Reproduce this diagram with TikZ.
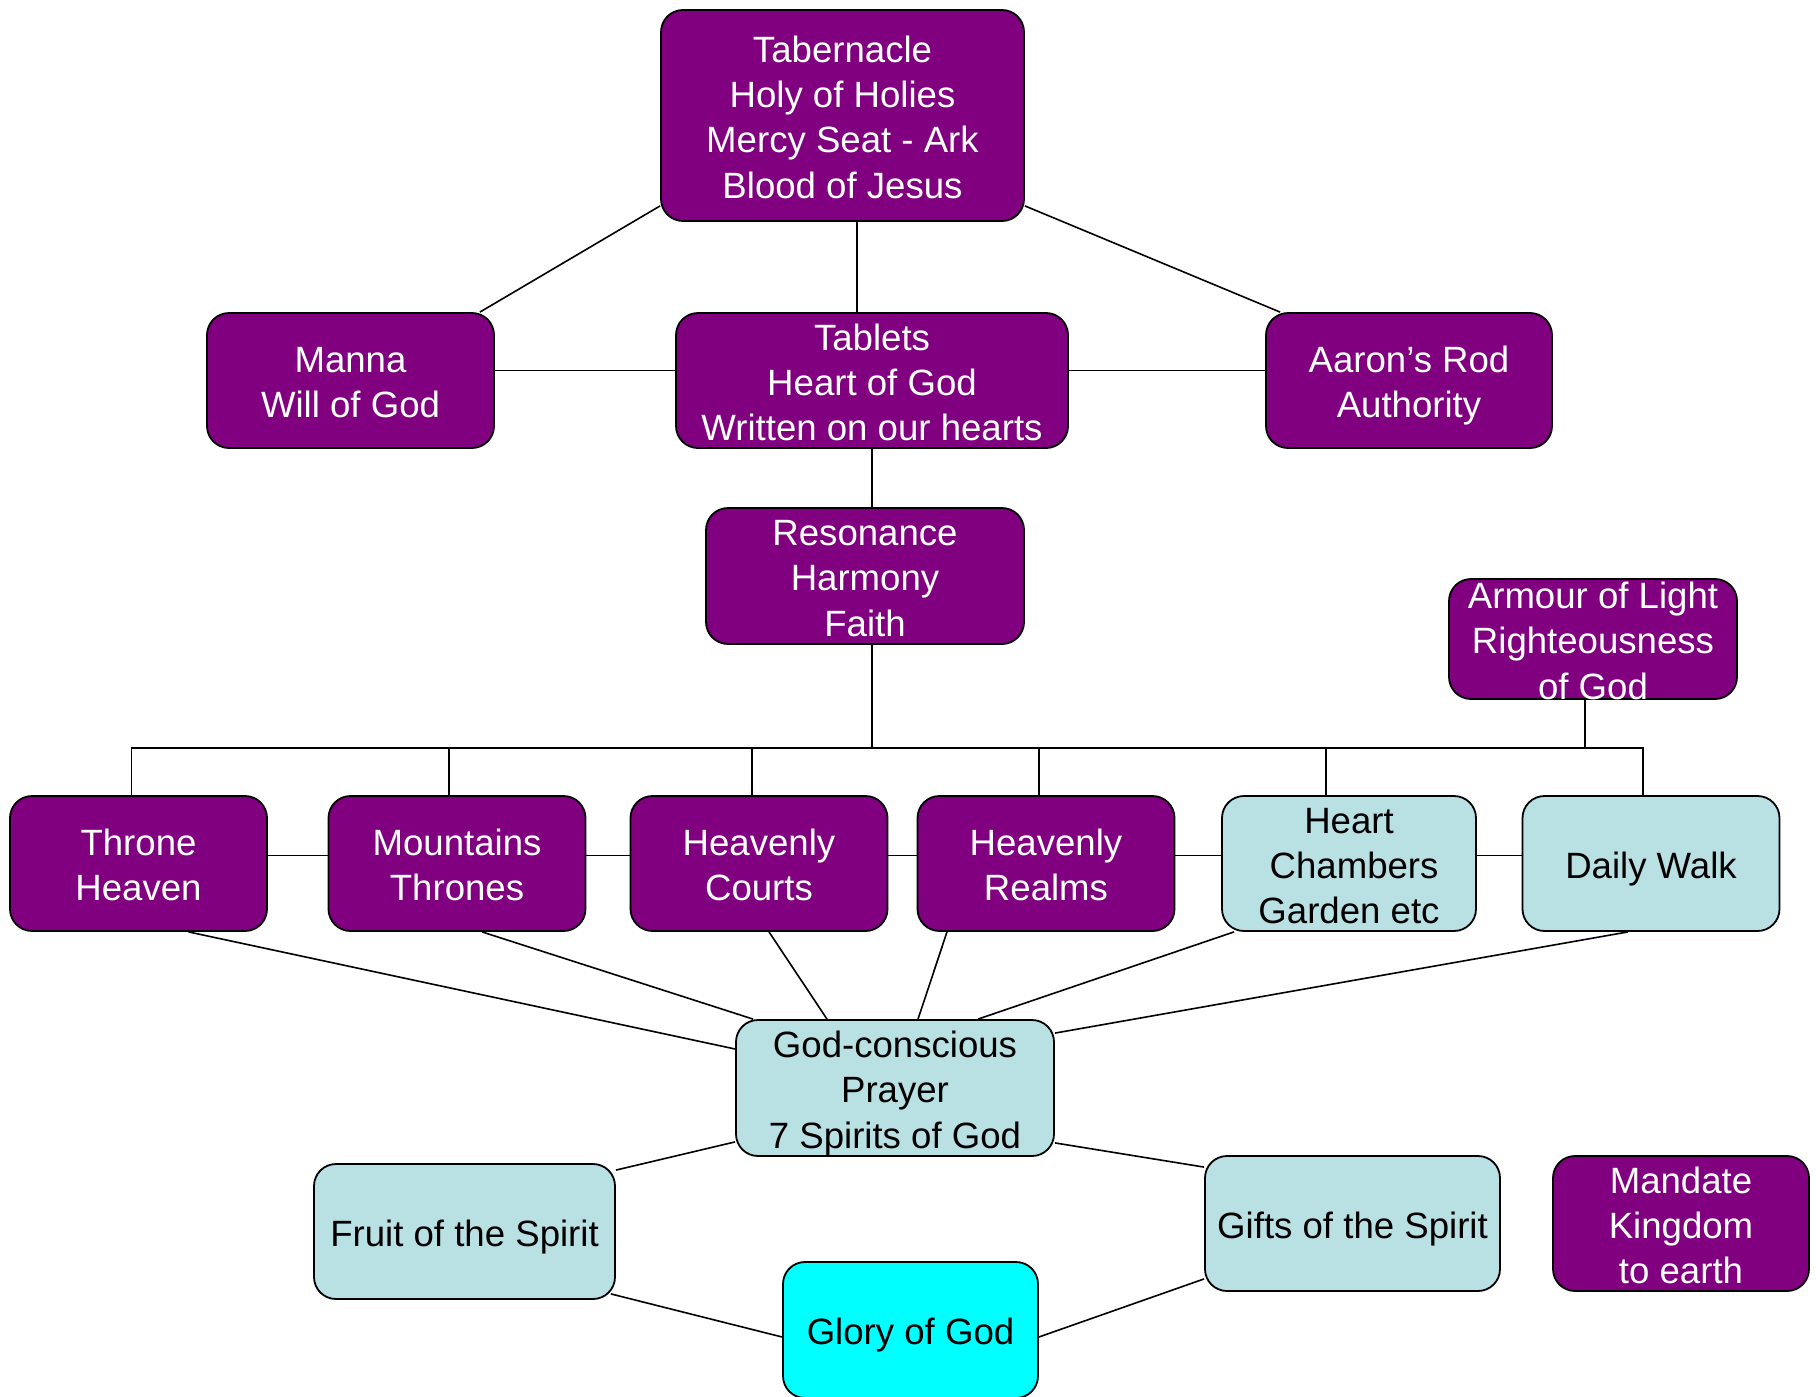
\documentclass[tikz,border=0pt]{standalone}
\usepackage{fontspec}
\setmainfont{Liberation Sans}
\usetikzlibrary{calc}

\definecolor{boxpurple}{RGB}{128,0,128}
\definecolor{boxblue}{RGB}{185,224,227}
\definecolor{boxcyan}{RGB}{0,255,255}

\tikzset{
  box/.style={draw=black, line width=0.9pt, rounded corners=11pt, inner sep=0pt,
    align=center, font=\fontsize{18.3}{22.6}\selectfont, minimum height=67.5pt,
    text height=18.5pt, text depth=3.7pt},
  lines2/.style={text height=41.1pt},
  lines3/.style={text height=63.7pt},
  lines4/.style={text height=86.3pt},
  purplebox/.style={box, fill=boxpurple, text=white},
  bluebox/.style={box, fill=boxblue, text=black},
  link/.style={draw=black, line width=0.8pt}
}

\begin{document}
\begin{tikzpicture}[x=0.5pt, y=-0.5pt]
	\useasboundingbox (0,0) rectangle (1816,1397);
	% top part
	\node[purplebox, lines4, minimum width=181.5pt, minimum height=105.5pt] (tab) at (842.5,115.5) {Tabernacle\\Holy of Holies\\Mercy Seat - Ark\\Blood of Jesus};
	\node[purplebox, lines2, minimum width=143.5pt] (manna) at (350.5,380.5) {Manna\\Will of God};
	\node[purplebox, lines3, minimum width=196pt] (tablets) at (872,380.5) {Tablets\\Heart of God\\Written on our hearts};
	\node[purplebox, lines2, minimum width=143pt] (aaron) at (1409,380.5) {Aaron’s Rod\\Authority};
	\node[purplebox, lines3, minimum width=159pt, minimum height=68pt] (res) at (865,576) {Resonance\\Harmony\\Faith};
	\node[purplebox, lines3, minimum width=144pt, minimum height=60pt, inner ysep=-3.7pt] (armour) at (1593,639) {Armour of Light\\Righteousness\\of God};
	% row of realms
	\node[purplebox, lines2, minimum width=128.5pt] (throne) at (138.5,863.5) {Throne\\Heaven};
	\node[purplebox, lines2, minimum width=128.5pt] (mount) at (457,863.5) {Mountains\\Thrones};
	\node[purplebox, lines2, minimum width=128.5pt] (courts) at (759,863.5) {Heavenly\\Courts};
	\node[purplebox, lines2, minimum width=128.5pt] (realms) at (1046,863.5) {Heavenly\\Realms};
	\node[bluebox, lines3, minimum width=127pt] (heart) at (1349,863.5) {Heart\\\ Chambers\\Garden etc};
	\node[bluebox, minimum width=128.5pt] (daily) at (1651,863.5) {Daily Walk};
	% bottom part
	\node[bluebox, lines3, minimum width=159pt, minimum height=68pt] (gc) at (895,1088) {God-conscious\\Prayer\\7 Spirits of God};
	\node[bluebox, minimum width=150.5pt] (fruit) at (464.5,1231.5) {Fruit of the Spirit};
	\node[bluebox, minimum width=147.5pt] (gifts) at (1352.5,1223.5) {Gifts of the Spirit};
	\node[box, fill=boxcyan, minimum width=127.5pt, minimum height=68pt] (glory) at (910.5,1330) {Glory of God};
	\node[purplebox, lines3, minimum width=128pt] (mandate) at (1681,1223.5) {Mandate\\Kingdom\\to earth};

	% connectors
	\draw[link] ($(tab.south west)+(0,-16)$) -- ($(manna.north east)+(-15,0)$);
	\draw[link] ($(tab.south)+(14.5,0)$) -- ($(tablets.north)+(-15,0)$);
	\draw[link] ($(tab.south east)+(0,-16)$) -- ($(aaron.north west)+(15,0)$);
	\draw[link] ($(manna.east)+(0,-10)$) -- ($(tablets.west)+(0,-10)$);
	\draw[link] ($(tablets.east)+(0,-10)$) -- ($(aaron.west)+(0,-10)$);
	\draw[link] (tablets.south) -- (tablets.south |- res.north);
	\coordinate (hub) at (872,748);
	\draw[link] (tablets.south |- res.south) -- (hub);
	\foreach \n/\dx in {throne/-7, mount/-8, courts/-7, realms/-7, heart/-23, daily/-8}
		\draw[link] ($(\n.north)+(\dx,0)$) |- (hub);
	\draw[link] ($(armour.south)+(-8,0)$) |- (hub);
	\foreach \a/\b in {throne/mount, mount/courts, courts/realms, realms/heart, heart/daily}
		\draw[link] ($(\a.east)+(0,-8)$) -- ($(\b.west)+(0,-8)$);
	\draw[link] ($(throne.south)+(50,0)$) -- ($(gc.west)+(0,-39)$);
	\draw[link] ($(mount.south)+(25,0)$) -- ($(gc.north west)+(18,0)$);
	\draw[link] ($(courts.south)+(10,0)$) -- ($(gc.north)+(-68,0)$);
	\draw[link] ($(realms.south)+(-99,0)$) -- ($(gc.north)+(23,0)$);
	\draw[link] ($(heart.south)+(-115,0)$) -- ($(gc.north)+(83,0)$);
	\draw[link] ($(daily.south)+(-23,0)$) -- ($(gc.north east)+(0,14)$);
	\draw[link] ($(gc.south west)+(0,-15)$) -- ($(fruit.north east)+(0,7)$);
	\draw[link] ($(gc.south east)+(0,-14)$) -- ($(gifts.north west)+(0,12)$);
	\draw[link] ($(fruit.south east)+(-5,-6)$) -- ($(glory.west)+(0,7)$);
	\draw[link] ($(gifts.south west)+(0,-13)$) -- ($(glory.east)+(0,7)$);
\end{tikzpicture}
\end{document}
